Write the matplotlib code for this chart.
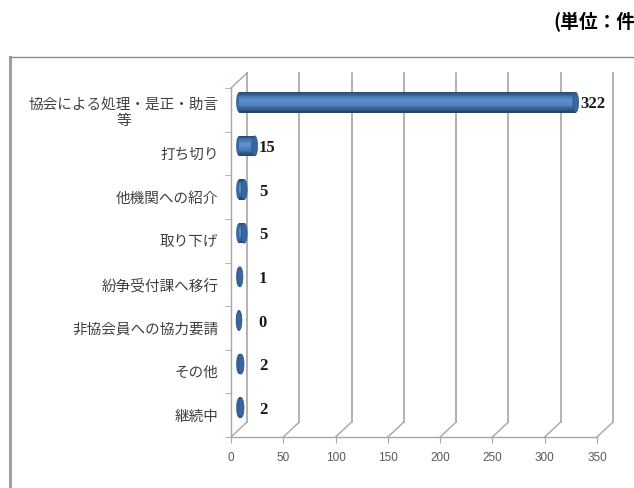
import matplotlib
matplotlib.use("Agg")
import matplotlib.pyplot as plt
import numpy as np
from matplotlib.patches import Ellipse
from matplotlib.lines import Line2D
from matplotlib.colors import LinearSegmentedColormap

plt.rcParams['font.family'] = ['Noto Sans CJK JP', 'DejaVu Sans']

categories = ["協会による処理・是正・助言\n等", "打ち切り", "他機関への紹介", "取り下げ",
              "紛争受付課へ移行", "非協会員への協力要請", "その他", "継続中"]
values = [322, 15, 5, 5, 1, 0, 2, 2]
xticks = [0, 50, 100, 150, 200, 250, 300, 350]
unit_label = "(単位：件)"

W, H = 634, 488
fig = plt.figure(figsize=(W / 100, H / 100), dpi=100)
ax = fig.add_axes([231 / W, 51 / H, 366 / W, 349 / H])
n = len(categories)
ax.set_xlim(0, 350)
ax.set_ylim(n - 0.5, -0.5)

# depth offset (pixels -> data units)
depth_px = (16, 15)
p0 = ax.transData.transform((0, n - 0.5))
p1 = ax.transData.inverted().transform(p0 + np.array(depth_px))
DX = p1[0] - 0
DY = p1[1] - (n - 0.5)  # negative (upwards)

grid_c = "#A6A6A6"
for xv in xticks:
    ax.plot([xv + DX, xv + DX], [n - 0.5 + DY, -0.5 + DY], color=grid_c, lw=1.2, zorder=1,
            clip_on=False)
    ax.plot([xv, xv + DX], [n - 0.5, n - 0.5 + DY], color=grid_c, lw=1.0, zorder=1,
            clip_on=False)
ax.plot([0, DX], [-0.5, -0.5 + DY], color=grid_c, lw=1.0, zorder=1, clip_on=False)

for s in ["top", "right"]:
    ax.spines[s].set_visible(False)
for s in ["left", "bottom"]:
    ax.spines[s].set_color(grid_c)
    ax.spines[s].set_linewidth(1.0)

ax.set_xticks(xticks)
ax.set_xticklabels([str(t) for t in xticks], fontsize=8.5, color="#595959",
                   family=["Liberation Sans"])
ax.tick_params(axis="x", direction="out", length=4, color=grid_c, pad=7)
ax.set_yticks(range(n))
ax.set_yticklabels(categories, fontsize=10.5, color="#404040", multialignment="center")
ax.set_yticks(np.arange(-0.5, n, 1.0), minor=True)
ax.tick_params(axis="y", which="major", length=0, pad=9)
ax.tick_params(axis="y", which="minor", direction="out", length=4, color=grid_c)

# cylinder bars
cmap = LinearSegmentedColormap.from_list(
    "cyl", ["#2A4A74", "#4777B3", "#5F90CF", "#5587C6", "#3C69A1", "#26446C"])
bh = 0.46
nstrip = 16
cx = DX / 2
cy = DY / 2
cap_w = 5.5
for i, v in enumerate(values):
    yc = i + cy
    ax.add_patch(Ellipse((cx, yc), cap_w, bh, facecolor="#3A67A0", edgecolor="none", zorder=3))
    for k in range(nstrip):
        y0 = yc - bh / 2 + k * bh / nstrip
        ax.barh(y0 + bh / nstrip / 2, v, left=cx, height=bh / nstrip * 1.3,
                color=cmap(k / (nstrip - 1)), edgecolor="none", antialiased=False, zorder=4)
    ax.add_patch(Ellipse((cx + v, yc), cap_w, bh, facecolor="#3A66A0", edgecolor="#2F5283",
                         lw=0.5, zorder=5))
    ax.annotate(str(v), (cx + max(v, 15), yc), xytext=(3, -1.5), textcoords="offset points",
                ha="left", va="center", fontsize=12, fontweight="bold", color="#1A1A1A",
                family=["Liberation Serif"], zorder=6)

# chart frame
fig.add_artist(Line2D([10 / W, 10 / W], [0, 1 - 57 / H], color="#A0A0A0", lw=2.2))
fig.add_artist(Line2D([10 / W, 1], [1 - 57 / H, 1 - 57 / H], color="#8C8C8C", lw=1.0))

fig.text(553 / W, 1 - 22 / H, unit_label, ha="left", va="center", fontsize=13.5,
         fontweight="bold", color="#000000")

fig.savefig("out.png", dpi=100)
